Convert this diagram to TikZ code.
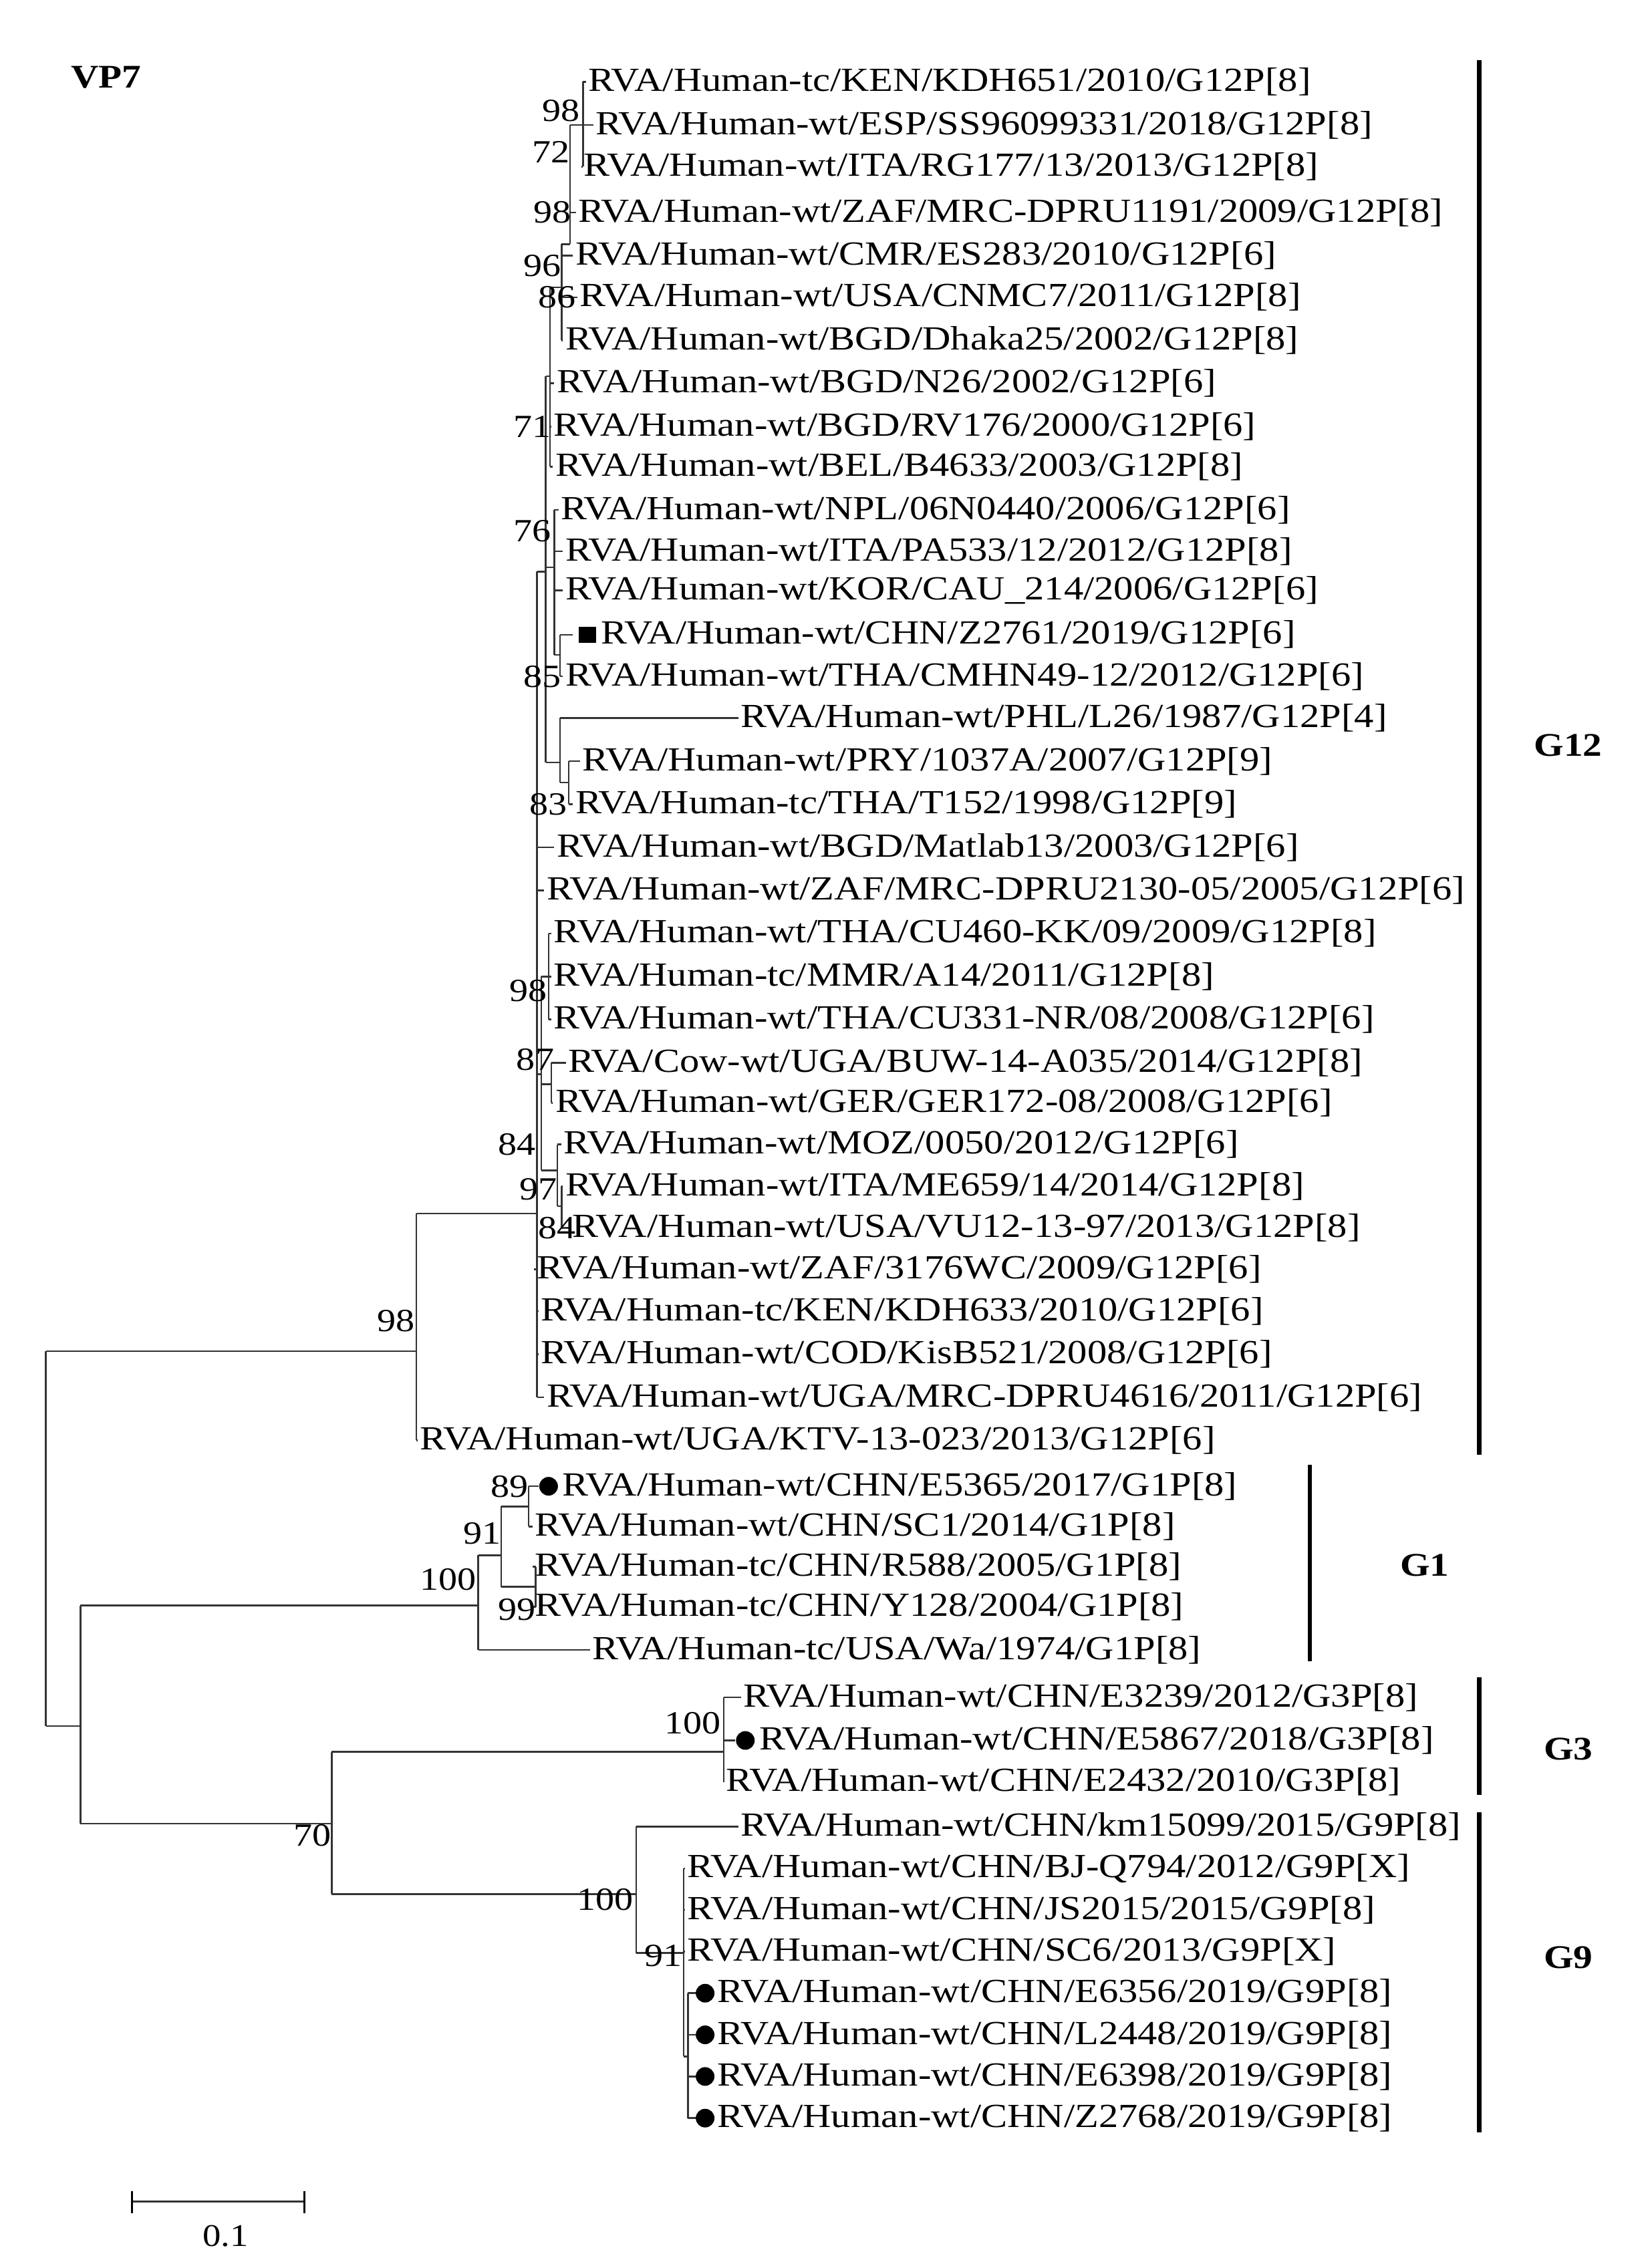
\documentclass[tikz,border=0pt]{standalone}
\usepackage{fontspec}
\setmainfont[FakeStretch=1.16]{Liberation Serif}
\begin{document}
\begin{tikzpicture}[x=1pt,y=-1pt,
  br/.style={draw=black!80,line width=1.2pt},
  leaf/.style={anchor=west,inner sep=1.5pt,font=\fontsize{23.5}{24}\selectfont},
  bs/.style={anchor=east,inner sep=0pt,font=\fontsize{22.5}{23}\selectfont},
  clade/.style={line width=3pt},
  cl/.style={font=\bfseries\fontsize{23}{24}\selectfont},
  dotm/.style={circle,fill=black,inner sep=0pt,minimum size=13pt}]
\useasboundingbox (0,0) rectangle (1150,1576.6);
\newcommand\lf[5]{\node[leaf] (#1) at (#3,#4) {#5}; \draw[br] (#2,#4) -- (#1.west);}
\newcommand\vl[3]{\draw[br] (#1,#2) -- (#1,#3);}
\newcommand\hl[3]{\draw[br] (#2,#1) -- (#3,#1);}
\node[cl,font=\bfseries\fontsize{23}{24}\selectfont] (vp) at (74,54) {VP7};
% G12 leaves
\lf{l1}{406}{408}{57}{RVA/Human-tc/KEN/KDH651/2010/G12P[8]}
\lf{l2}{397}{413}{87}{RVA/Human-wt/ESP/SS96099331/2018/G12P[8]}
\lf{l3}{406}{405}{116}{RVA/Human-wt/ITA/RG177/13/2013/G12P[8]}
\lf{l4}{397}{401}{148}{RVA/Human-wt/ZAF/MRC-DPRU1191/2009/G12P[8]}
\lf{l5}{391}{399}{178}{RVA/Human-wt/CMR/ES283/2010/G12P[6]}
\lf{l6}{391}{402}{207}{RVA/Human-wt/USA/CNMC7/2011/G12P[8]}
\lf{l7}{391}{392}{237}{RVA/Human-wt/BGD/Dhaka25/2002/G12P[8]}
\lf{l8}{383}{386}{267}{RVA/Human-wt/BGD/N26/2002/G12P[6]}
\lf{l9}{383}{384}{297}{RVA/Human-wt/BGD/RV176/2000/G12P[6]}
\lf{l10}{383}{385}{325}{RVA/Human-wt/BEL/B4633/2003/G12P[8]}
\lf{l11}{386}{389}{355}{RVA/Human-wt/NPL/06N0440/2006/G12P[6]}
\lf{l12}{386}{392}{384}{RVA/Human-wt/ITA/PA533/12/2012/G12P[8]}
\lf{l13}{386}{392}{411}{RVA/Human-wt/KOR/CAU\_214/2006/G12P[6]}
\node[fill=black,minimum width=12pt,minimum height=11pt,inner sep=0pt] (sq) at (409,442) {};
\draw[br] (390,442) -- (399,442);
\node[leaf] (l14) at (417,442) {RVA/Human-wt/CHN/Z2761/2019/G12P[6]};
\lf{l15}{390}{392}{471}{RVA/Human-wt/THA/CMHN49-12/2012/G12P[6]}
\lf{l16}{390}{514}{500}{RVA/Human-wt/PHL/L26/1987/G12P[4]}
\lf{l17}{396}{404}{530}{RVA/Human-wt/PRY/1037A/2007/G12P[9]}
\lf{l18}{396}{399}{560}{RVA/Human-tc/THA/T152/1998/G12P[9]}
\lf{l19}{374}{386}{590}{RVA/Human-wt/BGD/Matlab13/2003/G12P[6]}
\lf{l20}{374}{379}{620}{RVA/Human-wt/ZAF/MRC-DPRU2130-05/2005/G12P[6]}
\lf{l21}{382}{384}{650}{RVA/Human-wt/THA/CU460-KK/09/2009/G12P[8]}
\lf{l22}{382}{384}{680}{RVA/Human-tc/MMR/A14/2011/G12P[8]}
\lf{l23}{382}{384}{710}{RVA/Human-wt/THA/CU331-NR/08/2008/G12P[6]}
\lf{l24}{384}{394}{740}{RVA/Cow-wt/UGA/BUW-14-A035/2014/G12P[8]}
\lf{l25}{384}{385}{768}{RVA/Human-wt/GER/GER172-08/2008/G12P[6]}
\lf{l26}{388}{391}{797}{RVA/Human-wt/MOZ/0050/2012/G12P[6]}
\lf{l27}{391}{392}{826}{RVA/Human-wt/ITA/ME659/14/2014/G12P[8]}
\lf{l28}{391}{397}{855}{RVA/Human-wt/USA/VU12-13-97/2013/G12P[8]}
\lf{l29}{374}{372}{884}{RVA/Human-wt/ZAF/3176WC/2009/G12P[6]}
\lf{l30}{374}{375}{913}{RVA/Human-tc/KEN/KDH633/2010/G12P[6]}
\lf{l31}{374}{375}{943}{RVA/Human-wt/COD/KisB521/2008/G12P[6]}
\lf{l32}{374}{379}{973}{RVA/Human-wt/UGA/MRC-DPRU4616/2011/G12P[6]}
\lf{l33}{290}{291}{1003}{RVA/Human-wt/UGA/KTV-13-023/2013/G12P[6]}
% G12 internal
\vl{406}{57}{116}
\vl{397}{87}{170} \hl{170}{391}{397}
\vl{391}{170}{237} \hl{200}{383}{391}
\vl{383}{200}{325} \hl{262}{380}{383}
\vl{390}{442}{471} \vl{386}{355}{456} \hl{456}{386}{390} \hl{395}{380}{386}
\vl{396}{530}{560} \vl{390}{500}{545} \hl{545}{390}{396}
\vl{380}{262}{531} \hl{531}{380}{390} \hl{398}{374}{380}
\vl{382}{650}{710} \vl{384}{740}{768} \vl{391}{826}{855} \vl{388}{797}{840} \hl{840}{388}{391}
\vl{377}{680}{815} \hl{680}{377}{382} \hl{755}{377}{384} \hl{815}{377}{388} \hl{748}{374}{377}
\vl{374}{398}{973}
\hl{845}{290}{374} \vl{290}{845}{1003}
% G1
\draw[br] (368,1035) -- (375,1035);
\node[dotm] (d1) at (382,1035) {};
\node[leaf] (l34) at (390,1035) {RVA/Human-wt/CHN/E5365/2017/G1P[8]};
\lf{l35}{368}{371}{1063}{RVA/Human-wt/CHN/SC1/2014/G1P[8]}
\lf{l36}{373}{371}{1091}{RVA/Human-tc/CHN/R588/2005/G1P[8]}
\lf{l37}{373}{371}{1119}{RVA/Human-tc/CHN/Y128/2004/G1P[8]}
\lf{l38}{333}{411}{1149}{RVA/Human-tc/USA/Wa/1974/G1P[8]}
\vl{368}{1035}{1063} \vl{373}{1091}{1119}
\vl{349}{1049}{1105} \hl{1049}{349}{368} \hl{1105}{349}{373}
\vl{333}{1083}{1149} \hl{1083}{333}{349}
% root
\hl{941}{32}{290} \vl{32}{941}{1202} \hl{1202}{32}{56}
\vl{56}{1118}{1270} \hl{1118}{56}{333} \hl{1270}{56}{231}
\vl{231}{1220}{1319}
% G3
\hl{1220}{231}{504}
\vl{504}{1182}{1241}
\lf{l39}{504}{516}{1182}{RVA/Human-wt/CHN/E3239/2012/G3P[8]}
\draw[br] (504,1212) -- (512,1212);
\node[dotm] (d2) at (519,1212) {};
\node[leaf] (l40) at (527,1212) {RVA/Human-wt/CHN/E5867/2018/G3P[8]};
\lf{l41}{504}{504}{1241}{RVA/Human-wt/CHN/E2432/2010/G3P[8]}
% G9
\hl{1319}{231}{443}
\vl{443}{1272}{1360}
\lf{l42}{443}{514}{1272}{RVA/Human-wt/CHN/km15099/2015/G9P[8]}
\hl{1360}{443}{476}
\vl{476}{1301}{1432} \hl{1432}{476}{479} \vl{479}{1388}{1475}
\lf{l43}{476}{477}{1301}{RVA/Human-wt/CHN/BJ-Q794/2012/G9P[X]}
\lf{l44}{476}{477}{1330}{RVA/Human-wt/CHN/JS2015/2015/G9P[8]}
\lf{l45}{476}{477}{1359}{RVA/Human-wt/CHN/SC6/2013/G9P[X]}
\foreach \n/\yy/\t in {46/1388/E6356,47/1417/L2448,48/1446/E6398,49/1475/Z2768}{
  \draw[br] (479,\yy) -- (485,\yy);
  \node[dotm] (d\n) at (491,\yy) {};
  \node[leaf] (l\n) at (498,\yy) {RVA/Human-wt/CHN/\t/2019/G9P[8]};
}
% bootstrap
\node[bs] (b1) at (404,77) {98};
\node[bs] (b2) at (397,106) {72};
\node[bs] (b3) at (398,148) {98};
\node[bs] (b4) at (391,185) {96};
\node[bs] (b5) at (401,207) {86};
\node[bs] (b6) at (384,297) {71};
\node[bs] (b7) at (384,370) {76};
\node[bs] (b8) at (391,471) {85};
\node[bs] (b9) at (395,560) {83};
\node[bs] (b10) at (381,690) {98};
\node[bs] (b11) at (386,738) {87};
\node[bs] (b12) at (373,797) {84};
\node[bs] (b13) at (388,828) {97};
\node[bs] (b14) at (401,855) {84};
\node[bs] (b15) at (289,920) {98};
\node[bs] (b16) at (368,1035) {89};
\node[bs] (b17) at (349,1068) {91};
\node[bs] (b18) at (332,1100) {100};
\node[bs] (b19) at (373,1121) {99};
\node[bs] (b20) at (502,1200) {100};
\node[bs] (b21) at (231,1278) {70};
\node[bs] (b22) at (441,1323) {100};
\node[bs] (b23) at (475,1362) {91};
% clades
\draw[clade] (1030,42) -- (1030,1013);
\node[cl] (g12) at (1092,519) {G12};
\draw[clade] (912,1020) -- (912,1157);
\node[cl] (g1) at (992,1090) {G1};
\draw[clade] (1030,1168) -- (1030,1250);
\node[cl] (g3) at (1092,1218) {G3};
\draw[clade] (1030,1262) -- (1030,1485);
\node[cl] (g9) at (1092,1363) {G9};
% scale
\draw[br] (92,1533) -- (212,1533);
\draw[line width=1.2pt] (92,1526) -- (92,1541) (212,1526) -- (212,1541);
\node[font=\fontsize{22}{22}\selectfont] (sc) at (157,1557) {0.1};
\end{tikzpicture}
\end{document}
